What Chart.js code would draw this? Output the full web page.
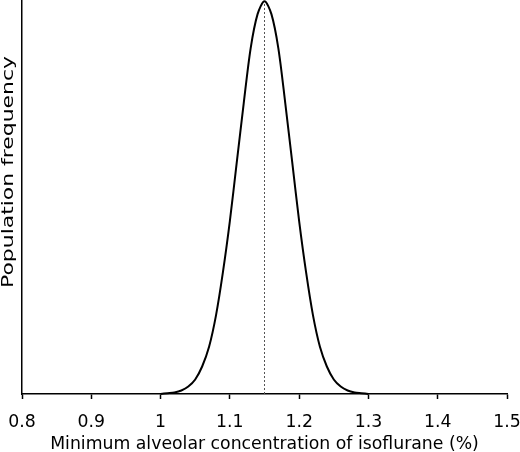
<!DOCTYPE html>
<html>
<head>
<meta charset="utf-8">
<script src="https://cdn.jsdelivr.net/npm/chart.js@4.4.1/dist/chart.umd.min.js"></script>
<style>
  html, body { margin: 0; padding: 0; background: #fff; }
  #wrap { width: 520px; height: 452px; position: relative; }
</style>
</head>
<body>
<div id="wrap"><canvas id="macChart"></canvas></div>
<script>
// MAC values (%) and relative population frequency
const macValues = [1.00, 1.01, 1.02, 1.03, 1.04, 1.05, 1.06, 1.07, 1.08, 1.09,
                   1.10, 1.11, 1.12, 1.13, 1.14, 1.15, 1.16, 1.17, 1.18, 1.19,
                   1.20, 1.21, 1.22, 1.23, 1.24, 1.25, 1.26, 1.27, 1.28, 1.29, 1.30];
const frequency = [0, 0.2, 0.4, 0.9, 1.9, 3.7, 7, 12, 20, 31,
                   44, 59, 74, 88, 96.7, 100, 96.7, 88, 74, 59,
                   44, 31, 20, 12, 7, 3.7, 1.9, 0.9, 0.4, 0.2, 0];
const meanMac = 1.15;
const xTicks = [0.8, 0.9, 1.0, 1.1, 1.2, 1.3, 1.4, 1.5];
const xTickLabels = ['0.8', '0.9', '1', '1.1', '1.2', '1.3', '1.4', '1.5'];
const yTitle = 'Population frequency';

const curve = macValues.map((v, i) => ({ x: v, y: frequency[i] }));
const meanLine = [{ x: meanMac, y: 0 }, { x: meanMac, y: 100 }];

const fontFamily = "'DejaVu Sans', Verdana, sans-serif";
const font = { family: fontFamily, size: 17.3 };

// the y title in the original figure is stretched along its length
const yTitlePlugin = {
    id: 'yTitle',
    afterDraw(chart) {
        const ctx = chart.ctx;
        ctx.save();
        ctx.font = '16px ' + fontFamily;
        ctx.fillStyle = '#000';
        const w = ctx.measureText(yTitle).width;
        ctx.translate(9, 172);
        ctx.rotate(-Math.PI / 2);
        ctx.scale(232 / w, 1);
        ctx.textAlign = 'center';
        ctx.textBaseline = 'middle';
        ctx.fillText(yTitle, 0, 0);
        ctx.restore();
    }
};

new Chart(document.getElementById('macChart'), {
    type: 'line',
    data: {
        datasets: [
            {
                data: curve,
                borderColor: '#000',
                borderWidth: 2,
                pointRadius: 0,
                tension: 0.3,
                fill: false,
                clip: false
            },
            {
                data: meanLine,
                borderColor: '#555',
                borderWidth: 1,
                borderDash: [2, 2],
                pointRadius: 0,
                fill: false
            }
        ]
    },
    plugins: [yTitlePlugin],
    options: {
        responsive: true,
        maintainAspectRatio: false,
        animation: false,
        layout: { padding: { top: 0, left: 0, right: 0, bottom: 0 } },
        plugins: { legend: { display: false }, tooltip: { enabled: false } },
        scales: {
            x: {
                type: 'linear',
                min: 0.8,
                max: 1.5,
                afterBuildTicks: (scale) => { scale.ticks = xTicks.map(v => ({ value: v })); },
                afterFit: (scale) => {
                    scale.height = 58;
                    scale.paddingLeft = 0;
                    scale.paddingRight = 13;
                },
                ticks: {
                    color: '#000',
                    font: font,
                    padding: 13,
                    maxRotation: 0,
                    callback: (v, i) => xTickLabels[i]
                },
                grid: { drawOnChartArea: false, tickLength: 5, color: '#000', tickWidth: 1.5 },
                border: { color: '#000', width: 1.5 },
                title: {
                    display: true,
                    text: 'Minimum alveolar concentration of isoflurane (%)',
                    color: '#000',
                    font: font,
                    padding: { top: 5, bottom: -3 }
                }
            },
            y: {
                min: 0,
                max: 100.3,
                afterFit: (scale) => { scale.width = 22; },
                ticks: { display: false },
                grid: { display: false },
                border: { color: '#000', width: 1.5 },
                title: { display: false }
            }
        }
    }
});
</script>
</body>
</html>
